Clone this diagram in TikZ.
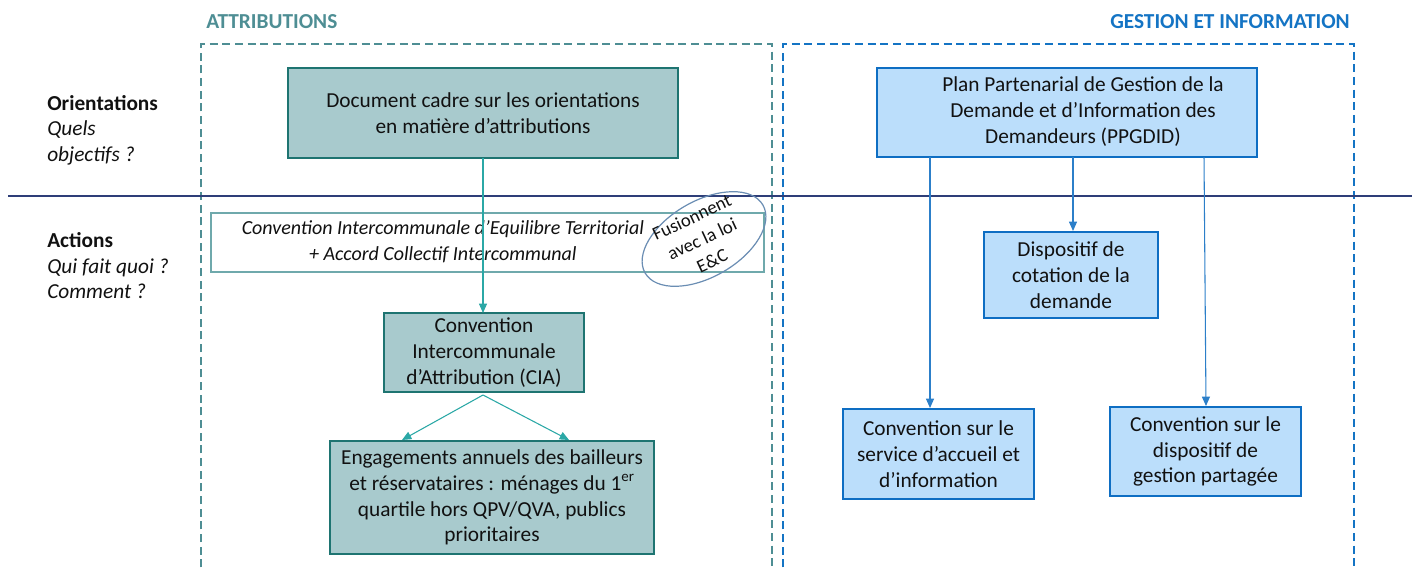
\documentclass[tikz,border=0pt]{standalone}
\usepackage{fontspec}
\setmainfont{Carlito}
\usetikzlibrary{arrows.meta,shapes.geometric}
\definecolor{tealdark}{HTML}{1E7471}
\definecolor{tealfill}{HTML}{A8CACD}
\definecolor{tealarrow}{HTML}{2BA8A6}
\definecolor{tealdash}{HTML}{4E8E94}
\definecolor{tealthin}{HTML}{6FA9AC}
\definecolor{bluedark}{HTML}{0E6EC3}
\definecolor{bluefill}{HTML}{BBDEFB}
\definecolor{bluearrow}{HTML}{2C7FC9}
\definecolor{bluedash}{HTML}{1474C4}
\definecolor{navyline}{HTML}{2E3E78}
\definecolor{ellcol}{HTML}{6A8DB3}
\definecolor{txt}{HTML}{111111}
\tikzset{
  base/.style={font=\fontsize{16}{19.3}\selectfont, text=txt, align=center, inner sep=0pt},
  attrbox/.style={base, draw=tealdark, fill=tealfill, line width=2.1pt},
  gestbox/.style={base, draw=bluedark, fill=bluefill, line width=2.1pt},
  tarrow/.style={draw=tealarrow, line width=0.8pt, -{Triangle[length=7pt,width=6pt]}},
  barrow/.style={draw=bluearrow, line width=0.8pt, -{Triangle[length=7pt,width=6pt]}},
  sidelabel/.style={base, align=left, anchor=north west},
}
\begin{document}
\begin{tikzpicture}[x=0.75pt,y=-0.75pt]
\useasboundingbox (0,0) rectangle (1412,570);

% section titles
\node[base, font=\fontsize{16}{19}\selectfont\bfseries, text=tealdash, anchor=west] (tatt) at (206,22) {ATTRIBUTIONS};
\node[base, font=\fontsize{16}{19}\selectfont\bfseries, text=bluedash, anchor=east] (tges) at (1350,22) {GESTION ET INFORMATION};

% dashed frames
\coordinate (la) at (201,580); \coordinate (lb) at (201,44); \coordinate (lc) at (772,44); \coordinate (ld) at (772,580);
\draw[tealdash, line width=2pt, dash pattern=on 6pt off 3.5pt] (la) -- (lb) -- (lc) -- (ld);
\coordinate (ra) at (783,580); \coordinate (rb) at (783,44); \coordinate (rc) at (1354,44); \coordinate (rd) at (1354,580);
\draw[bluedash, line width=2pt, dash pattern=on 6pt off 3.5pt] (ra) -- (rb) -- (rc) -- (rd);

% horizontal separator
\coordinate (hl) at (8,196); \coordinate (hr) at (1412,196);
\draw[navyline, line width=1.6pt] (hl) -- (hr);

% side labels
\node[sidelabel] (ori) at (47,95) {\textbf{Orientations}\\\textit{Quels}\\\textit{objectifs ?}};
\node[sidelabel] (act) at (47,232) {\textbf{Actions}\\\textit{Qui fait quoi ?}\\\textit{Comment ?}};

% attributions column
\node[attrbox, minimum width={390*0.75pt}, minimum height={90*0.75pt}] (doc) at (483,113)
  {Document cadre sur les orientations\\en matière d’attributions};

\node[base, font=\fontsize{15}{19}\selectfont, draw=tealthin, line width=0.8pt, fill=white, minimum width={553*0.75pt}, minimum height={59*0.75pt}] (ciet) at (487.5,242.5)
  {\begin{tabular}{@{}c@{}}\itshape Convention Intercommunale d’Equilibre Territorial\\\itshape + Accord Collectif Intercommunal\end{tabular}\hspace*{67pt}};

\node[draw=ellcol, line width=0.9pt, ellipse, rotate=30, minimum width={136*0.75pt}, minimum height={76*0.75pt}, inner sep=0pt] (ell) at (704,239) {};
\node[base, font=\fontsize{14}{18}\selectfont, rotate=25] (fus) at (702,239) {Fusionnent\\avec la loi\\E\&C};

\node[attrbox, minimum width={200*0.75pt}, minimum height={79*0.75pt}] (cia) at (484,352.5)
  {Convention\\Intercommunale\\d’Attribution (CIA)};

\node[attrbox, minimum width={324*0.75pt}, minimum height={113*0.75pt}] (eng) at (492,497.5)
  {Engagements annuels des bailleurs\\et réservataires : ménages du 1\textsuperscript{er}\\quartile hors QPV/QVA, publics\\prioritaires};

\coordinate (docb) at (483,158);
\coordinate (ciat) at (483,313);
\draw[tarrow] (docb) -- (ciat);
\coordinate (ciab) at (483,395);
\coordinate (engl) at (402,440);
\coordinate (engr) at (569,440);
\draw[tarrow] (ciab) -- (engl);
\draw[tarrow] (ciab) -- (engr);

% gestion column
\node[gestbox, minimum width={380*0.75pt}, minimum height={89*0.75pt}] (ppg) at (1067,112.5)
  {\hspace*{24pt}\begin{tabular}{@{}c@{}}Plan Partenarial de Gestion de la\\Demande et d’Information des\\Demandeurs (PPGDID)\end{tabular}};

\node[gestbox, minimum width={174*0.75pt}, minimum height={86*0.75pt}] (cot) at (1071,275)
  {Dispositif de\\cotation de la\\demande};

\node[gestbox, minimum width={191*0.75pt}, minimum height={90*0.75pt}] (svc) at (938.5,454)
  {Convention sur le\\service d’accueil et\\d’information};

\node[gestbox, minimum width={191*0.75pt}, minimum height={89*0.75pt}] (gsp) at (1205.5,451.5)
  {Convention sur le\\dispositif de\\gestion partagée};

\coordinate (p1) at (930,157); \coordinate (s1) at (930,408);
\coordinate (p2) at (1073,157); \coordinate (c2) at (1073,231);
\coordinate (p3) at (1204,157); \coordinate (g3) at (1206,406);
\draw[barrow] (p1) -- (s1);
\draw[barrow] (p2) -- (c2);
\draw[barrow] (p3) -- (g3);
\end{tikzpicture}
\end{document}
